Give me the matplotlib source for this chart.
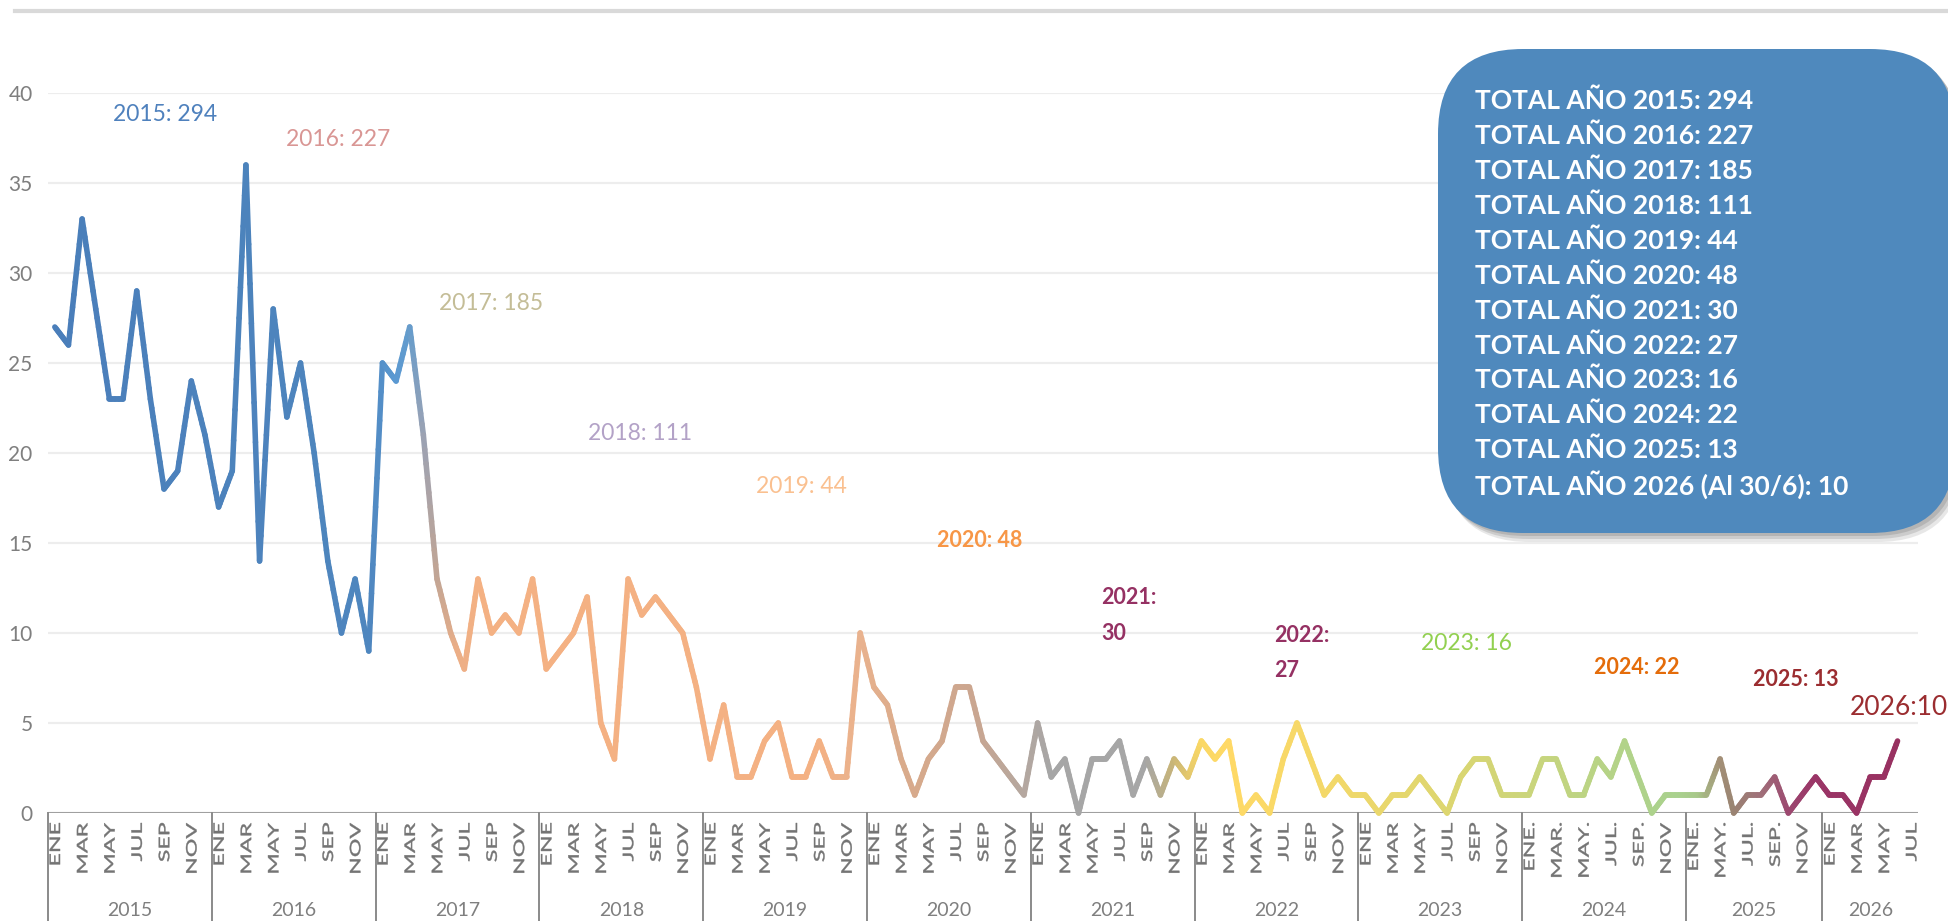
import numpy as np
import matplotlib
matplotlib.use("Agg")
import matplotlib.pyplot as plt
from matplotlib.collections import LineCollection
from matplotlib.colors import to_rgb
from matplotlib.textpath import TextPath
from matplotlib.patches import PathPatch, FancyBboxPatch
from matplotlib.font_manager import FontProperties
from matplotlib.transforms import Affine2D, IdentityTransform, blended_transform_factory
from matplotlib.lines import Line2D

# ---------------- data ----------------
years = [2015, 2016, 2017, 2018, 2019, 2020, 2021, 2022, 2023, 2024, 2025, 2026]
v2015 = [27, 26, 33, 28, 23, 23, 29, 23, 18, 19, 24, 21]
v2016 = [17, 19, 36, 14, 28, 22, 25, 20, 14, 10, 13, 9]
v2017 = [25, 24, 27, 21, 13, 10, 8, 13, 10, 11, 10, 13]
v2018 = [8, 9, 10, 12, 5, 3, 13, 11, 12, 11, 10, 7]
v2019 = [3, 6, 2, 2, 4, 5, 2, 2, 4, 2, 2, 10]
v2020 = [7, 6, 3, 1, 3, 4, 7, 7, 4, 3, 2, 1]
v2021 = [5, 2, 3, 0, 3, 3, 4, 1, 3, 1, 3, 2]
v2022 = [4, 3, 4, 0, 1, 0, 3, 5, 3, 1, 2, 1]
v2023 = [1, 0, 1, 1, 2, 1, 0, 2, 3, 3, 1, 1]
v2024 = [1, 3, 3, 1, 1, 3, 2, 4, 2, 0, 1, 1]
v2025 = [1, 1, 3, 0, 1, 1, 2, 0, 1, 2]
v2026 = [1, 1, 0, 2, 2, 4]
values_by_year = [v2015, v2016, v2017, v2018, v2019, v2020, v2021, v2022,
                  v2023, v2024, v2025, v2026]
categories_per_year = [12, 12, 12, 12, 12, 12, 12, 12, 12, 12, 10, 7]

labels_std = ["ENE", "MAR", "MAY", "JUL", "SEP", "NOV"]
labels_2024 = ["ENE.", "MAR.", "MAY.", "JUL.", "SEP.", "NOV"]
labels_2025 = ["ENE.", "MAY.", "JUL.", "SEP.", "NOV"]
labels_2026 = ["ENE", "MAR", "MAY", "JUL"]
month_labels_by_year = [labels_std] * 9 + [labels_2024, labels_2025, labels_2026]

totals = [294, 227, 185, 111, 44, 48, 30, 27, 16, 22, 13, 10]
box_lines = ["TOTAL AÑO %d: %d" % (y, t) for y, t in zip(years[:-1], totals[:-1])]
box_lines.append("TOTAL AÑO 2026 (Al 30/6): %d" % totals[-1])

# ---------------- figure ----------------
W, H = 1949, 921
fig = plt.figure(figsize=(W / 100, H / 100), dpi=100)
fig.patch.set_facecolor("white")

ax_left, ax_right, ax_y0, ax_y40 = 48, 1918, 813, 93
ax = fig.add_axes([ax_left / W, (H - ax_y0) / H, (ax_right - ax_left) / W,
                   (ax_y0 - ax_y40) / H])
n_cat = sum(categories_per_year)
ax.set_xlim(-0.5, n_cat - 0.5)
ax.set_ylim(0, 40)
for s in ax.spines.values():
    s.set_visible(False)
ax.set_yticks(np.arange(0, 41, 5))
ax.set_xticks([])
ax.yaxis.grid(True, color="#EDEDED", lw=1.6)
ax.set_axisbelow(True)
ax.tick_params(axis="y", length=0, pad=11, labelsize=15, labelcolor="#7F7F7F")
for lab in ax.get_yticklabels():
    lab.set_fontfamily("Lato")
ax.axhline(0, color="#A0A0A0", lw=2.2, zorder=2)

# x positions of data
xs, ys = [], []
start = 0
year_starts = []
for vals, ncat in zip(values_by_year, categories_per_year):
    year_starts.append(start)
    for k, v in enumerate(vals):
        xs.append(start + k)
        ys.append(v)
    start += ncat
xs = np.array(xs, float)
ys = np.array(ys, float)

# gradient colour stops (category position -> colour)
stops = [
    (0, "#4A7EBA"), (23, "#4E86BE"), (25, "#5A99D2"), (26, "#659CCC"),
    (27, "#9AA2B4"), (28, "#C2A594"), (29.5, "#EBAE87"), (31, "#F4B183"),
    (56, "#F4B183"), (59, "#E9B28E"), (62, "#DAAB8B"), (67, "#CCA68F"),
    (71, "#B5A79F"), (73, "#A6A6A6"), (80, "#A6A6A6"), (82, "#C9B577"),
    (84, "#FAD865"), (86, "#FFD966"), (94, "#F2D869"), (102, "#DDD670"),
    (108, "#CBD57B"), (115, "#B2D389"), (119, "#A9D18E"), (120.5, "#A8C88A"),
    (122, "#A39077"), (123, "#9A8472"), (125, "#A0727A"), (127, "#9C4A70"),
    (129, "#9A3567"), (136, "#98305F"),
]
sp = np.array([s[0] for s in stops], float)
sc = np.array([to_rgb(s[1]) for s in stops])

def col_at(t):
    return tuple(np.interp(t, sp, sc[:, c]) for c in range(3))

segs, cols = [], []
nsub = 10
for i in range(len(xs) - 1):
    for k in range(nsub):
        t0, t1 = k / nsub, (k + 1) / nsub
        p0 = (xs[i] + (xs[i + 1] - xs[i]) * t0, ys[i] + (ys[i + 1] - ys[i]) * t0)
        p1 = (xs[i] + (xs[i + 1] - xs[i]) * t1, ys[i] + (ys[i + 1] - ys[i]) * t1)
        segs.append([p0, p1])
        cols.append(col_at((p0[0] + p1[0]) / 2))
lc = LineCollection(segs, colors=cols, linewidths=4.0, capstyle="round",
                    joinstyle="round", zorder=3)
lc.set_clip_on(False)
ax.add_collection(lc)

# year separators and year labels
trans_xb = blended_transform_factory(ax.transData, ax.transAxes)
trans_xf = blended_transform_factory(ax.transData, fig.transFigure)
ax_h_px = ax_y0 - ax_y40
for ys0, ncat, yr in zip(year_starts, categories_per_year, years):
    ax.plot([ys0 - 0.5, ys0 - 0.5], [0, -(H - ax_y0) / ax_h_px], transform=trans_xb,
            color="#8A8A8A", lw=1.4, clip_on=False, zorder=2)
    ax.text(ys0 + (ncat - 1) / 2, 1 - 916 / H, str(yr), transform=trans_xf,
            ha="center", va="baseline", fontsize=14, color="#7F7F7F", family="Lato",
            clip_on=False)

# stretched vertical month labels
fig.canvas.draw()
fp = FontProperties(family="Lato")
size_px, stretch = 14.5, 1.6
y_top_disp = H - 823
for ys0, labs in zip(year_starts, month_labels_by_year):
    for j, lab in enumerate(labs):
        xd = ax.transData.transform((ys0 + 2 * j, 0))[0]
        tp = TextPath((0, 0), lab, size=size_px, prop=fp)
        bb = tp.get_extents()
        tr = (Affine2D().translate(-bb.x1, -(bb.y0 + bb.y1) / 2)
              .scale(stretch, 1).rotate_deg(90).translate(xd, y_top_disp))
        patch = PathPatch(tr.transform_path(tp), transform=IdentityTransform(),
                          fc="#747474", ec="#747474", lw=0.3)
        fig.add_artist(patch)

# top grey rule
fig.add_artist(Line2D([15 / W, 1], [1 - 11 / H, 1 - 11 / H], transform=fig.transFigure,
                      color="#D9D9D9", lw=3))

# year total annotations
ann = [
    ("2015: 294", 165, 114, "#4F81BD", "normal", 16.5, "center"),
    ("2016: 227", 338, 139, "#D99694", "normal", 16.5, "center"),
    ("2017: 185", 491, 303, "#C4BD97", "normal", 16.5, "center"),
    ("2018: 111", 640, 433, "#B3A2C7", "normal", 16.5, "center"),
    ("2019: 44", 801, 486, "#FAC090", "normal", 16.5, "center"),
    ("2020: 48", 980, 540, "#F79646", "bold", 15.5, "center"),
    ("2021:", 1101, 598, "#953163", "bold", 15.5, "left"),
    ("30", 1101, 633, "#953163", "bold", 15.5, "left"),
    ("2022:", 1274, 636, "#953163", "bold", 15.5, "left"),
    ("27", 1274, 670, "#953163", "bold", 15.5, "left"),
    ("2023: 16", 1467, 644, "#92D050", "normal", 16.5, "center"),
    ("2024: 22", 1637, 667, "#E46C0A", "bold", 15.5, "center"),
    ("2025: 13", 1796, 679, "#9B2D30", "bold", 15.5, "center"),
    ("2026:10", 1850, 707, "#9B2D30", "normal", 19, "left"),
]
for s, x, y, c, w, fs, ha in ann:
    fig.text(x / W, 1 - y / H, s, color=c, fontweight=w, fontsize=fs, ha=ha,
             va="center", family="Lato")

# totals box with shadow
bx0, bx1, by_top, by_bot = 1438, 1955, 49, 533
for off, a in [((7, -9), 0.18), ((5, -6), 0.25), ((3, -3), 0.3)]:
    sh = FancyBboxPatch((bx0 + off[0], H - by_bot + off[1]), bx1 - bx0, by_bot - by_top,
                        boxstyle="round,pad=0,rounding_size=85",
                        transform=IdentityTransform(), fc="#7F7F7F", ec="none", alpha=a)
    fig.add_artist(sh)
box = FancyBboxPatch((bx0, H - by_bot), bx1 - bx0, by_bot - by_top,
                     boxstyle="round,pad=0,rounding_size=85",
                     transform=IdentityTransform(), fc="#4F89BD", ec="none")
fig.add_artist(box)
line_y0, line_dy = 101, 34.9
for k, s in enumerate(box_lines):
    fig.text(1475 / W, 1 - (line_y0 + k * line_dy) / H, s, color="white",
             fontweight="bold", fontsize=19, ha="left", va="center", family="Lato")

fig.savefig("out.png", dpi=100)
